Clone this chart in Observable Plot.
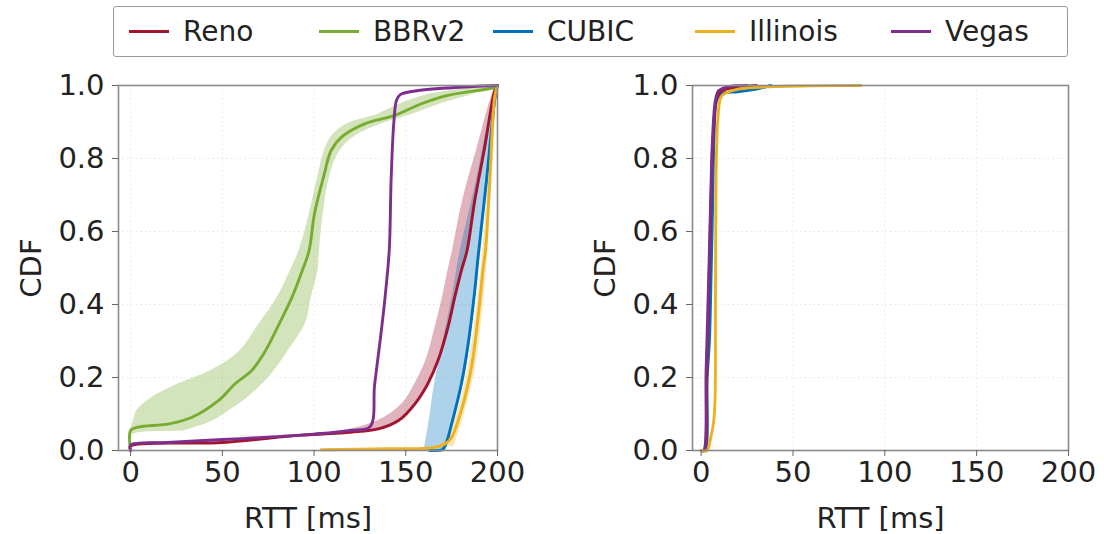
<!DOCTYPE html>
<html>
<head>
<meta charset="utf-8">
<script src="https://cdn.jsdelivr.net/npm/d3@7"></script>
<script src="https://cdn.jsdelivr.net/npm/@observablehq/plot@0.6"></script>
<style>
  html, body { margin: 0; padding: 0; background: #fff; }
  #root { position: relative; width: 1104px; height: 534px; overflow: hidden; font-family: "DejaVu Sans", sans-serif; }
  #legend { position: absolute; left: 113px; top: 6px; width: 953px; height: 49px; border: 1.5px solid #9a9a9a; border-radius: 3px; box-sizing: content-box; z-index: 2; background: #fff; }
  .item { position: absolute; top: 0; height: 49px; display: flex; align-items: center; font-size: 28px; color: #222; white-space: nowrap; }
  .swatch { width: 40px; height: 3px; margin-right: 14px; }
  .panel { position: absolute; top: 60px; }
</style>
</head>
<body>
<div id="root">
  <div id="legend"></div>
  <div id="left" class="panel" style="left:0px"></div>
  <div id="right" class="panel" style="left:570px"></div>
</div>
<script>
// ---------- data ----------
const seriesNames = ["Reno", "BBRv2", "CUBIC", "Illinois", "Vegas"];
const seriesColors = ["#A2142F", "#77AC30", "#0072BD", "#EDB120", "#7E2F8E"];
const xTicks = [0, 50, 100, 150, 200];
const yTicks = [0, 0.2, 0.4, 0.6, 0.8, 1.0];

// Left panel: median CDF lines (RTT ms, CDF)
const renoLX = [0, 0, 50, 93, 120, 135, 146, 155, 162, 167.6, 173, 176.7, 180.3, 183.4, 187.6, 193, 198.5, 200];
const renoLY = [0, 0.012, 0.022, 0.042, 0.05, 0.059, 0.082, 0.128, 0.183, 0.247, 0.338, 0.42, 0.493, 0.548, 0.685, 0.83, 0.986, 1];
const bbrLX = [0, 0, 4, 21, 33.5, 48, 57, 66, 73.6, 81, 88, 93.6, 97.3, 100.2, 105.6, 109.3, 114.8, 127.5, 143.9, 158.5, 173, 198.5, 200];
const bbrLY = [0, 0.055, 0.064, 0.073, 0.091, 0.137, 0.183, 0.219, 0.274, 0.347, 0.42, 0.493, 0.548, 0.648, 0.758, 0.822, 0.858, 0.895, 0.918, 0.95, 0.973, 0.995, 1];
const cubicLX = [163, 170, 172, 175, 180.3, 184, 187.6, 189.4, 194, 198.5, 200];
const cubicLY = [0, 0.003, 0.02, 0.073, 0.183, 0.292, 0.438, 0.53, 0.74, 0.96, 1];
const illinoisLX = [104, 140, 165, 172, 175, 180.3, 185.8, 189.4, 192.2, 193.5, 195.8, 198.5, 200];
const illinoisLY = [0.002, 0.005, 0.008, 0.02, 0.036, 0.11, 0.228, 0.365, 0.5, 0.55, 0.74, 0.97, 1];
const vegasLX = [0, 0, 20, 50, 80, 100, 120, 130.5, 133, 136, 138.5, 141, 142, 143.5, 145, 147, 155, 175, 200];
const vegasLY = [0, 0.015, 0.022, 0.03, 0.038, 0.045, 0.055, 0.065, 0.18, 0.3, 0.41, 0.55, 0.74, 0.9, 0.96, 0.975, 0.985, 0.994, 1];

// Left panel: spread bands (at each CDF level, RTT range)
const bbrBandY  = [0, 0.04, 0.055, 0.065, 0.075, 0.09, 0.11, 0.14, 0.18, 0.22, 0.27, 0.35, 0.42, 0.49, 0.55, 0.65, 0.76, 0.82, 0.86, 0.895, 0.92, 0.95, 0.975, 1.0];
const bbrBandLo = [0, 0, 0, 0.5, 1, 2, 3.5, 10, 25, 44, 59, 70.5, 80, 86.8, 92, 97.5, 102.5, 105.5, 109.5, 118, 134, 147, 162, 197];
const bbrBandHi = [0, 0, 30, 36, 42, 48, 54, 62.5, 71.5, 78.5, 85.5, 95.5, 98.5, 102, 103, 105, 109, 114, 122, 137, 153, 169, 186, 200];
const renoBandY  = [0.04, 0.05, 0.082, 0.128, 0.183, 0.247, 0.338, 0.42, 0.493, 0.548, 0.685, 0.83, 0.986, 1];
const renoBandLo = [60, 110, 135, 148, 155, 161, 166, 170, 173, 175.5, 181, 189, 198, 200];
const renoBandHi = [100, 125, 148, 156, 163, 168.5, 174, 177.5, 181, 184, 188.5, 194, 199, 200];
const cubicBandY  = [0, 0.073, 0.183, 0.292, 0.438, 0.53, 0.74, 0.96, 1];
const cubicBandLo = [160, 162.5, 165.7, 170, 176, 179, 188.5, 197.5, 200];
const cubicBandHi = [172, 176, 181.5, 185, 188.5, 190.5, 195, 199.3, 200];
const illinoisBandY  = [0.01, 0.036, 0.11, 0.228, 0.365, 0.5, 0.74, 0.97, 1];
const illinoisBandLo = [168, 172.5, 178.5, 184, 188, 191, 195, 198, 200];
const illinoisBandHi = [176, 178, 182.5, 188, 191.5, 194, 197, 199.5, 200];

// Right panel: median CDF lines
const renoRX = [0, 1.6, 3, 4.5, 5.8, 7, 8.5, 11, 20, 30];
const renoRY = [0, 0, 0.2, 0.5, 0.77, 0.9, 0.965, 0.985, 0.995, 1];
const cubicRX = [0, 2, 3.3, 4.5, 5.5, 6.3, 7, 8.5, 11, 20, 30, 38];
const cubicRY = [0, 0, 0.2, 0.3, 0.5, 0.68, 0.85, 0.96, 0.978, 0.983, 0.99, 1];
const illinoisRX = [0, 3.3, 5, 6.9, 7.6, 7.8, 8.2, 9, 10.5, 12, 20, 40, 60, 87];
const illinoisRY = [0, 0, 0.03, 0.082, 0.15, 0.4, 0.77, 0.9, 0.965, 0.975, 0.99, 0.997, 0.999, 1];
const vegasRX = [0, 1.4, 2.7, 4.2, 5.6, 6.0, 7.8, 9.6, 15, 25];
const vegasRY = [0, 0, 0.22, 0.49, 0.77, 0.83, 0.96, 0.986, 0.997, 1];

// ---------- drawing ----------
const FONT = "DejaVu Sans";
const col = Object.fromEntries(seriesNames.map((n, i) => [n, seriesColors[i]]));

function band(ys, lo, hi, color) {
  return Plot.areaX(ys, {y: ys, x1: lo, x2: hi, fill: color, fillOpacity: 0.32, curve: "catmull-rom"});
}
function line(xs, ys, color) {
  return Plot.line(xs, {x: xs, y: ys, stroke: color, strokeWidth: 2.9, curve: "catmull-rom", strokeLinejoin: "round"});
}

function panel(xDomain, marginLeft, marginRight, dataMarks) {
  return Plot.plot({
    width: 510,
    height: 474,
    marginTop: 25,
    marginBottom: 84,
    marginLeft,
    marginRight,
    style: {fontFamily: FONT, fontSize: "29px", color: "#222", background: "transparent", overflow: "visible"},
    x: {domain: xDomain},
    y: {domain: [0, 1]},
    marks: [
      Plot.gridY(yTicks, {stroke: "#b0b0b0", strokeOpacity: 0.3, strokeDasharray: "1.5,3"}),
      Plot.gridX(xTicks, {stroke: "#b0b0b0", strokeOpacity: 0.3, strokeDasharray: "1.5,3"}),
      ...dataMarks,
      Plot.frame({stroke: "#8a8a8a", strokeWidth: 1.6}),
      Plot.axisY(yTicks, {tickFormat: d => d.toFixed(1), tickSize: 6, tickPadding: 8, stroke: "#666",
        fontSize: 29, label: "CDF", labelAnchor: "center", labelArrow: "none", labelOffset: 98}),
      Plot.axisX(xTicks, {tickSize: 6, tickPadding: 5, stroke: "#666",
        fontSize: 29, label: "RTT [ms]", labelAnchor: "center", labelArrow: "none", labelOffset: 77})
    ]
  });
}

const leftMarks = [
  band(bbrBandY, bbrBandLo, bbrBandHi, col.BBRv2),
  band(renoBandY, renoBandLo, renoBandHi, col.Reno),
  band(cubicBandY, cubicBandLo, cubicBandHi, col.CUBIC),
  band(illinoisBandY, illinoisBandLo, illinoisBandHi, col.Illinois),
  line(renoLX, renoLY, col.Reno),
  line(bbrLX, bbrLY, col.BBRv2),
  line(cubicLX, cubicLY, col.CUBIC),
  line(illinoisLX, illinoisLY, col.Illinois),
  line(vegasLX, vegasLY, col.Vegas)
];
const rightMarks = [
  line(cubicRX, cubicRY, col.CUBIC),
  line(renoRX, renoRY, col.Reno),
  line(vegasRX, vegasRY, col.Vegas),
  line(illinoisRX, illinoisRY, col.Illinois)
];

document.getElementById("left").append(panel([-6.6, 200], 118, 13, leftMarks));
document.getElementById("right").append(panel([-4.7, 200], 122, 12, rightMarks));

// legend
const legendLeft = [15, 205, 379, 581, 777];
const legend = document.getElementById("legend");
seriesNames.forEach((name, i) => {
  const item = document.createElement("div");
  item.className = "item";
  item.style.left = legendLeft[i] + "px";
  const sw = document.createElement("span");
  sw.className = "swatch";
  sw.style.background = seriesColors[i];
  const t = document.createElement("span");
  t.textContent = name;
  item.append(sw, t);
  legend.append(item);
});
</script>
</body>
</html>
